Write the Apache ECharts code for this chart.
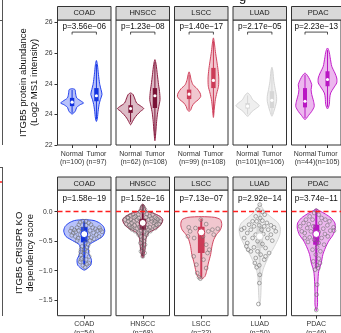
<!DOCTYPE html>
<html>
<head>
<meta charset="utf-8">
<script src="https://cdn.jsdelivr.net/npm/echarts@6/dist/echarts.min.js"></script>
<style>
  html, body { margin: 0; padding: 0; background: #ffffff; }
  #chart { width: 341px; height: 333px; }
</style>
</head>
<body>
<div id="chart"></div>
<script>
// ---------- data ----------
const panels = ['COAD', 'HNSCC', 'LSCC', 'LUAD', 'PDAC'];
const groups = ['Normal', 'Tumor'];
const normalCounts = [100, 62, 99, 101, 44];
const tumorCounts = [97, 108, 108, 106, 105];
const crisprCounts = [54, 68, 22, 50, 46];
const proteinPValues = ['3.56e\u221206', '1.23e\u221208', '1.40e\u221217', '2.17e\u221205', '2.23e\u221213'];
const crisprPValues = ['1.58e\u221219', '1.52e\u221216', '7.13e\u221207', '2.92e\u221214', '3.74e\u221211'];
const proteinTickValues = [22, 23, 24, 25, 26];
const proteinTickLabels = ['22', '24', '24', '26', '26'];
const crisprTickValues = [-1.5, -1, -0.5, 0];
const crisprTickLabels = ['\u22121.5', '\u22121.0', '\u22120.5', '0.0'];

// protein abundance violins: [log2 intensity, half width]
const coadNormalViolin = [[23.01,0],[23.05,0.07],[23.12,0.14],[23.23,0.19],[23.32,0.34],[23.37,0.47],[23.43,0.38],[23.54,0.19],[23.70,0.14],[23.81,0.12],[23.84,0]];
const coadTumorViolin = [[22.77,0],[22.88,0.04],[23.10,0.07],[23.32,0.11],[23.48,0.16],[23.65,0.23],[23.81,0.19],[23.97,0.14],[24.19,0.10],[24.41,0.07],[24.63,0.04],[24.76,0]];
const hnsccNormalViolin = [[22.66,0],[22.77,0.08],[22.88,0.16],[22.99,0.27],[23.10,0.41],[23.19,0.54],[23.26,0.44],[23.37,0.25],[23.54,0.16],[23.65,0.10],[23.70,0]];
const hnsccTumorViolin = [[22.14,0],[22.45,0.04],[22.77,0.07],[23.05,0.11],[23.26,0.16],[23.48,0.21],[23.75,0.19],[23.97,0.15],[24.30,0.10],[24.63,0.05],[24.79,0]];
const lsccNormalViolin = [[23.10,0],[23.15,0.07],[23.26,0.12],[23.37,0.21],[23.48,0.38],[23.59,0.48],[23.70,0.45],[23.84,0.33],[23.97,0.16],[24.14,0.08],[24.30,0.04],[24.39,0]];
const lsccTumorViolin = [[22.90,0],[23.21,0.04],[23.48,0.08],[23.70,0.14],[23.92,0.21],[24.19,0.22],[24.46,0.19],[24.74,0.14],[25.06,0.08],[25.33,0.04],[25.50,0]];
const luadNormalViolin = [[22.94,0],[22.99,0.08],[23.08,0.16],[23.19,0.34],[23.28,0.48],[23.37,0.38],[23.48,0.21],[23.62,0.11],[23.70,0]];
const luadTumorViolin = [[22.94,0],[23.10,0.08],[23.26,0.14],[23.43,0.19],[23.59,0.19],[23.81,0.14],[24.08,0.08],[24.41,0.04],[24.54,0]];
const pdacNormalViolin = [[22.83,0],[22.88,0.07],[22.97,0.16],[23.10,0.30],[23.26,0.41],[23.43,0.38],[23.65,0.30],[23.81,0.27],[23.97,0.30],[24.14,0.21],[24.27,0.11],[24.35,0]];
const pdacTumorViolin = [[23.18,0],[23.32,0.08],[23.54,0.10],[23.70,0.14],[23.86,0.27],[24.03,0.41],[24.19,0.41],[24.35,0.33],[24.57,0.19],[24.85,0.12],[25.06,0.07],[25.17,0]];

// protein boxes: [q1, median, q3, whisker low, whisker high]
const coadNormalBox = [23.27, 23.40, 23.54, 23.05, 23.80];
const coadTumorBox = [23.43, 23.61, 23.86, 22.85, 24.65];
const hnsccNormalBox = [23.05, 23.19, 23.30, 22.75, 23.65];
const hnsccTumorBox = [23.21, 23.61, 23.86, 22.30, 24.70];
const lsccNormalBox = [23.50, 23.66, 23.81, 23.15, 24.30];
const lsccTumorBox = [23.86, 24.11, 24.52, 23.00, 25.40];
const luadNormalBox = [23.19, 23.27, 23.37, 23.00, 23.62];
const luadTumorBox = [23.21, 23.46, 23.76, 23.00, 24.45];
const pdacNormalBox = [23.23, 23.43, 23.86, 22.88, 24.30];
const pdacTumorBox = [23.92, 24.14, 24.41, 23.25, 25.10];

// CRISPR dependency violins: [score, half width]
const coadCrisprViolin = [[-0.99,0],[-0.95,0.09],[-0.90,0.15],[-0.81,0.16],[-0.73,0.11],[-0.64,0.09],[-0.56,0.11],[-0.49,0.26],[-0.42,0.41],[-0.33,0.46],[-0.25,0.43],[-0.19,0.34],[-0.15,0.22],[-0.135,0]];
const hnsccCrisprViolin = [[-0.785,0],[-0.76,0.02],[-0.67,0.045],[-0.56,0.06],[-0.45,0.075],[-0.36,0.13],[-0.305,0.26],[-0.25,0.37],[-0.19,0.43],[-0.135,0.45],[-0.08,0.39],[-0.02,0.22],[0.017,0.075],[0.09,0.045],[0.13,0]];
const lsccCrisprViolin = [[-1.14,0],[-1.10,0.08],[-1.01,0.12],[-0.87,0.16],[-0.728,0.21],[-0.587,0.24],[-0.474,0.28],[-0.39,0.34],[-0.305,0.43],[-0.22,0.46],[-0.135,0.43],[-0.096,0.30],[-0.084,0]];
const luadCrisprViolin = [[-1.59,0],[-1.46,0.02],[-1.29,0.03],[-1.12,0.04],[-0.98,0.075],[-0.84,0.15],[-0.728,0.22],[-0.615,0.31],[-0.50,0.39],[-0.389,0.45],[-0.277,0.46],[-0.19,0.41],[-0.107,0.28],[-0.022,0.15],[0.063,0.06],[0.13,0]];
const pdacCrisprViolin = [[-1.68,0],[-1.58,0.03],[-1.41,0.03],[-1.18,0.04],[-1.01,0.06],[-0.87,0.12],[-0.728,0.16],[-0.615,0.22],[-0.50,0.30],[-0.389,0.41],[-0.277,0.46],[-0.19,0.45],[-0.107,0.36],[-0.039,0.22],[0.017,0.075],[0.046,0]];

const coadCrisprBox = [-0.52, -0.38, -0.26, -0.90, -0.16];
const hnsccCrisprBox = [-0.305, -0.19, -0.12, -0.76, 0.12];
const lsccCrisprBox = [-0.70, -0.35, -0.255, -1.12, -0.12];
const luadCrisprBox = [-0.615, -0.418, -0.25, -1.17, 0.06];
const pdacCrisprBox = [-0.56, -0.378, -0.22, -0.96, 0.04];

// cell lines: [jitter, score]
const coadCrisprPoints = [[-0.28,-0.28],[-0.22,-0.31],[-0.16,-0.27],[-0.12,-0.22],[-0.09,-0.18],[-0.03,-0.16],[0.04,-0.16],[0.10,-0.19],[0.15,-0.22],[0.19,-0.27],[0.25,-0.29],[0.30,-0.32],[0.36,-0.31],[0.40,-0.34],[-0.31,-0.33],[-0.25,-0.36],[-0.19,-0.34],[-0.13,-0.32],[0.13,-0.32],[0.21,-0.36],[0.27,-0.39],[0.33,-0.42],[-0.20,-0.42],[-0.14,-0.45],[-0.09,-0.39],[0.10,-0.39],[0.16,-0.44],[0.22,-0.46],[-0.28,-0.40],[0.04,-0.23],[-0.05,-0.29],[0.34,-0.27],[-0.16,-0.49],[0.13,-0.49],[0.07,-0.45],[0.02,-0.53],[-0.05,-0.59],[0.07,-0.60],[-0.07,-0.64],[0.08,-0.67],[-0.01,-0.70],[-0.08,-0.73],[0.11,-0.76],[-0.05,-0.79],[0.04,-0.81],[-0.09,-0.85],[0.10,-0.87],[-0.03,-0.91],[0.02,-0.94],[0.06,-0.89],[-0.07,-0.81],[0.09,-0.56],[0,-0.64],[-0.08,-0.68]];
const hnsccCrisprPoints = [[-0.40,-0.135],[-0.34,-0.096],[-0.28,-0.062],[-0.22,-0.039],[-0.16,-0.079],[-0.10,-0.05],[0.09,-0.039],[0.16,-0.073],[0.22,-0.05],[0.28,-0.096],[0.34,-0.135],[0.39,-0.163],[-0.32,-0.163],[-0.27,-0.135],[-0.21,-0.163],[-0.13,-0.135],[0.13,-0.135],[0.20,-0.163],[0.25,-0.19],[0.31,-0.22],[-0.37,-0.21],[-0.30,-0.23],[-0.24,-0.265],[-0.18,-0.23],[-0.12,-0.21],[0.10,-0.22],[0.16,-0.265],[0.24,-0.25],[0.28,-0.277],[-0.24,-0.30],[-0.17,-0.33],[-0.13,-0.288],[0.13,-0.305],[0.17,-0.33],[-0.06,0.006],[0.05,0.035],[0,0.09],[-0.02,0.063],[0.03,-0.005],[-0.07,-0.265],[0.07,-0.265],[-0.10,-0.361],[0.09,-0.361],[-0.09,-0.389],[0.09,-0.389],[-0.04,-0.418],[0.04,-0.435],[-0.02,-0.474],[0.03,-0.50],[-0.05,-0.53],[0.05,-0.559],[-0.01,-0.587],[0.01,-0.627],[-0.04,-0.672],[0.04,-0.70],[0,-0.757],[-0.25,-0.19],[0.28,-0.163],[0.36,-0.21],[-0.28,-0.27],[-0.09,-0.107],[0.07,-0.096],[-0.19,-0.096],[0.19,-0.118],[-0.33,-0.107],[0.31,-0.118],[-0.03,-0.321],[0.03,-0.344]];
const lsccCrisprPoints = [[-0.01,-0.135],[-0.28,-0.265],[-0.13,-0.277],[0.11,-0.21],[0.25,-0.305],[0.37,-0.288],[-0.25,-0.333],[0.16,-0.333],[0.28,-0.389],[-0.30,-0.418],[-0.16,-0.446],[0.04,-0.418],[0.11,-0.559],[0.18,-0.644],[-0.17,-0.757],[0.05,-0.813],[-0.11,-0.898],[0.14,-0.70],[0.11,-0.955],[-0.05,-1.112],[-0.02,-1.135],[-0.09,-1.04]];
const luadCrisprPoints = [[0,0.12],[-0.05,0.035],[0.06,-0.005],[-0.09,-0.079],[0.01,-0.107],[0.11,-0.05],[-0.16,-0.163],[-0.07,-0.163],[0.06,-0.152],[0.16,-0.19],[-0.24,-0.22],[-0.13,-0.248],[-0.01,-0.231],[0.10,-0.248],[0.25,-0.231],[-0.35,-0.277],[-0.20,-0.305],[0.04,-0.305],[0.19,-0.305],[0.32,-0.265],[0.36,-0.333],[-0.28,-0.361],[-0.09,-0.389],[0.08,-0.378],[0.25,-0.389],[-0.41,-0.305],[-0.16,-0.446],[0.17,-0.446],[0.28,-0.491],[-0.05,-0.50],[-0.28,-0.53],[0.06,-0.547],[-0.13,-0.604],[-0.26,-0.644],[-0.20,-0.672],[-0.05,-0.672],[0.13,-0.615],[-0.30,-0.587],[0.02,-0.728],[-0.09,-0.785],[0.10,-0.813],[-0.01,-0.909],[-0.07,-0.943],[0.13,-0.757],[-0.11,-0.87],[0,-1.07],[-0.01,-1.21],[-0.03,-1.565],[0.21,-0.70],[-0.35,-0.446]];
const pdacCrisprPoints = [[0,0.017],[-0.05,-0.022],[-0.16,-0.079],[0.06,-0.05],[0.13,-0.107],[0.22,-0.135],[-0.25,-0.135],[-0.09,-0.135],[0.32,-0.163],[-0.31,-0.19],[-0.18,-0.21],[0.10,-0.19],[0.27,-0.231],[0.42,-0.265],[-0.39,-0.248],[-0.22,-0.277],[-0.07,-0.248],[0.17,-0.288],[0.34,-0.321],[-0.28,-0.361],[-0.13,-0.333],[0.06,-0.344],[0.21,-0.378],[-0.35,-0.333],[-0.16,-0.435],[0.13,-0.446],[0.28,-0.418],[-0.05,-0.474],[0.06,-0.53],[-0.20,-0.513],[0.19,-0.559],[0.02,-0.604],[-0.09,-0.644],[0.10,-0.672],[-0.01,-0.728],[0.06,-0.796],[-0.07,-0.842],[0.02,-0.909],[0.09,-0.87],[-0.03,-0.983],[0.02,-1.237],[0.01,-1.406],[0,-1.666],[0.43,-0.321],[-0.28,-0.446],[0.05,-0.955]];

// ---------- styling and layout ----------
const FONT = "'Liberation Sans', Arial, Helvetica, sans-serif";
const strokeColors = ['#2341ee', '#8e1f42', '#d2455f', '#d4d4d4', '#c31fcb'];
const fillColors = ['rgba(35,65,238,0.32)', 'rgba(142,31,66,0.30)', 'rgba(210,69,95,0.30)', 'rgba(190,190,190,0.25)', 'rgba(195,31,203,0.32)'];
const boxColors = ['#1233e0', '#7a1236', '#cc3b57', '#d6d6d6', '#b916c3'];
const panelLeft = [57.5, 116, 174.5, 233, 291.5];
const panelWidth = 53.5;
const topRow = { top: 20, height: 125, stripTop: 6.5 };
const bottomRow = { top: 190, height: 125.7, stripTop: 177 };
const proteinRange = [22, 26.085];
const crisprRange = [-1.763, 0.368];
const pLabelLevel = 25.85, bracketLevel = 25.69, bracketDrop = 0.08;
const crisprLabelLevel = 0.215;

const proteinViolins = [
  [coadNormalViolin, coadTumorViolin], [hnsccNormalViolin, hnsccTumorViolin],
  [lsccNormalViolin, lsccTumorViolin], [luadNormalViolin, luadTumorViolin],
  [pdacNormalViolin, pdacTumorViolin]
];
const proteinBoxes = [
  [coadNormalBox, coadTumorBox], [hnsccNormalBox, hnsccTumorBox],
  [lsccNormalBox, lsccTumorBox], [luadNormalBox, luadTumorBox],
  [pdacNormalBox, pdacTumorBox]
];
const crisprViolins = [coadCrisprViolin, hnsccCrisprViolin, lsccCrisprViolin, luadCrisprViolin, pdacCrisprViolin];
const crisprBoxes = [coadCrisprBox, hnsccCrisprBox, lsccCrisprBox, luadCrisprBox, pdacCrisprBox];
const crisprPoints = [coadCrisprPoints, hnsccCrisprPoints, lsccCrisprPoints, luadCrisprPoints, pdacCrisprPoints];

// ---------- builders ----------
function violinSeries(axisIdx, p, items, boxHalf, whiskerWidth) {
  return {
    type: 'custom', xAxisIndex: axisIdx, yAxisIndex: axisIdx, z: 2, silent: true,
    data: items.map((it, k) => [it.x, it.box[1], k]),
    encode: { x: 0, y: 1 },
    renderItem: (params, api) => {
      const it = items[api.value(2)];
      const x = api.value(0);
      const prof = it.profile;
      const right = prof.map(([v, w]) => api.coord([x + w, v]));
      const left = prof.slice(1, prof.length - 1).reverse().map(([v, w]) => api.coord([x - w, v]));
      const [q1, , q3, lo, hi] = it.box;
      const tl = api.coord([x - boxHalf, q3]);
      const br = api.coord([x + boxHalf, q1]);
      const wt = api.coord([x, hi]);
      const wb = api.coord([x, lo]);
      return {
        type: 'group',
        children: [
          { type: 'polygon', shape: { points: right.concat(left), smooth: 0.25 },
            style: { fill: fillColors[p], stroke: strokeColors[p], lineWidth: 1 } },
          { type: 'line', shape: { x1: wt[0], y1: wt[1], x2: wb[0], y2: wb[1] },
            style: { stroke: boxColors[p], lineWidth: whiskerWidth } },
          { type: 'rect', shape: { x: tl[0], y: tl[1], width: br[0] - tl[0], height: br[1] - tl[1] },
            style: { fill: boxColors[p] } }
        ]
      };
    }
  };
}

function medianSeries(axisIdx, p, items, radius, ring) {
  return {
    type: 'custom', xAxisIndex: axisIdx, yAxisIndex: axisIdx, z: 6, silent: true,
    data: items.map(it => [it.x, it.box[1]]),
    encode: { x: 0, y: 1 },
    renderItem: (params, api) => {
      const c = api.coord([api.value(0), api.value(1)]);
      return { type: 'circle', shape: { cx: c[0], cy: c[1], r: radius },
        style: { fill: '#ffffff', stroke: ring ? boxColors[p] : null, lineWidth: ring ? 1 : 0 } };
    }
  };
}

function pTextStyle(text, c) {
  return { text: text, x: c[0], y: c[1], align: 'center', verticalAlign: 'middle',
    fontSize: 8.2, fontFamily: FONT, fill: '#111111' };
}

// category labels under each panel, placed at the axis positions
function groupLabelSeries(axisIdx, labels, baseValue) {
  return {
    type: 'custom', xAxisIndex: axisIdx, yAxisIndex: axisIdx, z: 7, silent: true, clip: false,
    data: labels.map((t, k) => [k + 1, baseValue, k]),
    encode: { x: 0, y: 1 },
    renderItem: (params, api) => {
      const c = api.coord([api.value(0), api.value(1)]);
      return { type: 'text', style: { text: labels[api.value(2)], x: c[0], y: c[1] + 4.5,
        align: 'center', verticalAlign: 'top', fontSize: 7, lineHeight: 8.3,
        fontFamily: FONT, fill: '#333333' } };
    }
  };
}

const grids = [], xAxes = [], yAxes = [], series = [], graphics = [];

panels.forEach((name, p) => {
  // ---- protein abundance row ----
  const ti = 2 * p;
  grids.push({ left: panelLeft[p], top: topRow.top, width: panelWidth, height: topRow.height,
    show: true, borderColor: '#333333', borderWidth: 1, backgroundColor: '#ffffff' });
  xAxes.push({
    gridIndex: ti, type: 'value', min: 0.4, max: 2.6,
    axisLine: { show: false, onZero: false }, splitLine: { show: false },
    axisTick: { show: true, customValues: [1, 2], length: 3, lineStyle: { color: '#333333' } },
    axisLabel: { show: false }
  });
  yAxes.push({
    gridIndex: ti, type: 'value', min: proteinRange[0], max: proteinRange[1],
    axisLine: { show: false, onZero: false }, splitLine: { show: false },
    axisTick: { show: p === 0, customValues: proteinTickValues, length: 3, lineStyle: { color: '#333333' } },
    axisLabel: { show: p === 0, customValues: proteinTickValues, margin: 5, fontSize: 6.8, color: '#333333',
      showMinLabel: true, showMaxLabel: true, hideOverlap: false,
      fontFamily: FONT, formatter: v => proteinTickLabels[proteinTickValues.indexOf(v)] },
    name: p === 0 ? 'ITGB5 protein abundance\n(Log2 MS1 intensity)' : '',
    nameLocation: 'middle', nameGap: 18,
    nameTextStyle: { fontSize: 9.5, lineHeight: 10.5, color: '#111111', fontFamily: FONT }
  });
  const topItems = [0, 1].map(g => ({ x: g + 1, profile: proteinViolins[p][g], box: proteinBoxes[p][g] }));
  series.push(violinSeries(ti, p, topItems, 0.09, 1));
  series.push(medianSeries(ti, p, topItems, 1.6, false));
  series.push(groupLabelSeries(ti, [
    groups[0] + '\n(n=' + normalCounts[p] + ')',
    groups[1] + '\n(n=' + tumorCounts[p] + ')'
  ], proteinRange[0]));
  series.push({
    type: 'custom', xAxisIndex: ti, yAxisIndex: ti, z: 7, silent: true,
    data: [[1.5, pLabelLevel]], encode: { x: 0, y: 1 },
    renderItem: (params, api) => {
      const a = api.coord([1, bracketLevel - bracketDrop]);
      const b = api.coord([1, bracketLevel]);
      const c = api.coord([2, bracketLevel]);
      const d = api.coord([2, bracketLevel - bracketDrop]);
      const t = api.coord([1.5, pLabelLevel]);
      return { type: 'group', children: [
        { type: 'polyline', shape: { points: [a, b, c, d] }, style: { stroke: '#222222', lineWidth: 0.8, fill: null } },
        { type: 'text', style: pTextStyle('p=' + proteinPValues[p], t) }
      ] };
    }
  });

  // ---- CRISPR dependency row ----
  const bi = 2 * p + 1;
  grids.push({ left: panelLeft[p], top: bottomRow.top, width: panelWidth, height: bottomRow.height,
    show: true, borderColor: '#333333', borderWidth: 1, backgroundColor: '#ffffff' });
  xAxes.push({
    gridIndex: bi, type: 'value', min: 0.4, max: 1.6,
    axisLine: { show: false, onZero: false }, splitLine: { show: false },
    axisTick: { show: true, customValues: [1], length: 3, lineStyle: { color: '#333333' } },
    axisLabel: { show: false }
  });
  yAxes.push({
    gridIndex: bi, type: 'value', min: crisprRange[0], max: crisprRange[1],
    axisLine: { show: false, onZero: false }, splitLine: { show: false },
    axisTick: { show: p === 0, customValues: crisprTickValues, length: 3, lineStyle: { color: '#333333' } },
    axisLabel: { show: p === 0, customValues: crisprTickValues, margin: 5, fontSize: 6.8, color: '#333333',
      showMinLabel: true, showMaxLabel: true, hideOverlap: false,
      fontFamily: FONT, formatter: v => crisprTickLabels[crisprTickValues.indexOf(v)] },
    name: p === 0 ? 'ITGB5 CRISPR KO\ndependency score' : '',
    nameLocation: 'middle', nameGap: 18,
    nameTextStyle: { fontSize: 9.5, lineHeight: 10.5, color: '#111111', fontFamily: FONT }
  });
  const botItems = [{ x: 1, profile: crisprViolins[p], box: crisprBoxes[p] }];
  series.push(violinSeries(bi, p, botItems, 0.075, 2));
  series.push({
    type: 'scatter', xAxisIndex: bi, yAxisIndex: bi, z: 4, silent: true,
    symbol: 'circle', symbolSize: 3.8,
    itemStyle: { color: 'rgba(255,255,255,0.15)', borderColor: '#6a6a6a', borderWidth: 0.7 },
    data: crisprPoints[p].map(([dx, v]) => [1 + dx, v]),
    markLine: {
      silent: true, symbol: 'none', label: { show: false },
      lineStyle: { color: '#ff1f1f', type: [5, 3], width: 1.3 },
      data: [{ yAxis: 0 }]
    }
  });
  series.push(medianSeries(bi, p, botItems, 3.5, true));
  series.push(groupLabelSeries(bi, [name + '\n(n=' + crisprCounts[p] + ')'], crisprRange[0]));
  series.push({
    type: 'custom', xAxisIndex: bi, yAxisIndex: bi, z: 7, silent: true,
    data: [[1, crisprLabelLevel]], encode: { x: 0, y: 1 },
    renderItem: (params, api) => ({ type: 'text',
      style: pTextStyle('p=' + crisprPValues[p], api.coord([api.value(0), api.value(1)])) })
  });

  // facet strips
  [topRow, bottomRow].forEach(row => {
    graphics.push({ type: 'rect', z: 10,
      shape: { x: panelLeft[p], y: row.stripTop, width: panelWidth, height: row.top - row.stripTop },
      style: { fill: '#d9d9d9', stroke: '#333333', lineWidth: 1 } });
    graphics.push({ type: 'text', z: 11,
      style: { text: name, x: panelLeft[p] + panelWidth / 2, y: (row.stripTop + row.top) / 2,
        align: 'center', verticalAlign: 'middle', fontSize: 7.5, fontFamily: FONT, fill: '#1a1a1a' } });
  });
});

// edges of the neighbouring figure panels and heading
graphics.push({ type: 'line', z: 10, shape: { x1: 2.5, y1: 0, x2: 2.5, y2: 145 }, style: { stroke: '#555555', lineWidth: 1 } });
graphics.push({ type: 'line', z: 10, shape: { x1: 0, y1: 20.5, x2: 2.5, y2: 20.5 }, style: { stroke: '#555555', lineWidth: 1 } });
graphics.push({ type: 'line', z: 10, shape: { x1: 2.5, y1: 167, x2: 2.5, y2: 316 }, style: { stroke: '#555555', lineWidth: 1 } });
graphics.push({ type: 'line', z: 10, shape: { x1: 0, y1: 167.5, x2: 2.5, y2: 167.5 }, style: { stroke: '#555555', lineWidth: 1 } });
graphics.push({ type: 'line', z: 10, shape: { x1: 0, y1: 182, x2: 2, y2: 182 }, style: { stroke: '#ff1f1f', lineWidth: 1.3 } });
graphics.push({ type: 'text', z: 10, style: { text: 'g', x: 239, y: 4, verticalAlign: 'bottom',
  fontSize: 13, fontFamily: FONT, fill: '#111111' } });

const chart = echarts.init(document.getElementById('chart'), null, { renderer: 'canvas' });
chart.setOption({
  animation: false,
  backgroundColor: '#ffffff',
  grid: grids,
  xAxis: xAxes,
  yAxis: yAxes,
  series: series,
  graphic: graphics
});
</script>
</body>
</html>
